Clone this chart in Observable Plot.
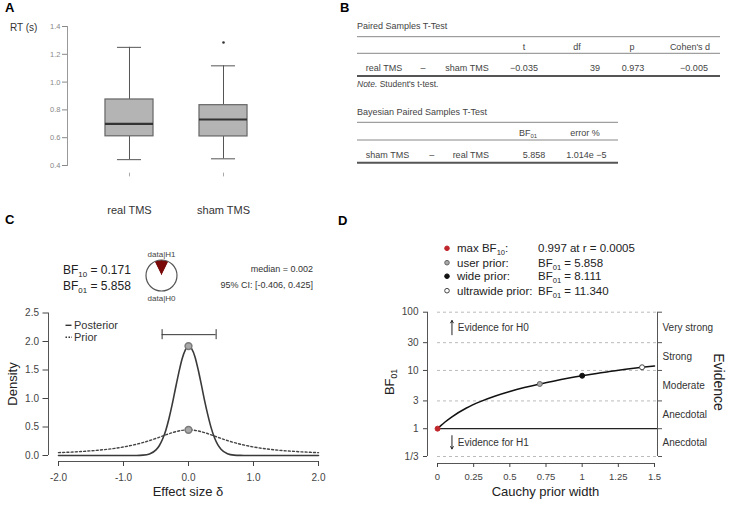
<!DOCTYPE html>
<html><head><meta charset="utf-8">
<script src="https://cdn.jsdelivr.net/npm/d3@7"></script>
<script src="https://cdn.jsdelivr.net/npm/@observablehq/plot@0.6"></script>
<style>
html,body{margin:0;padding:0;background:#fff;}
#fig{position:relative;width:733px;height:505px;overflow:hidden;background:#fff;}
#fig svg{position:absolute;}
</style></head><body><div id="fig"></div>
<script>
const FONT = "'Liberation Sans', Arial, Helvetica, sans-serif";

// ---------- Panel A: RT box plots (summary statistics)
const conditions = ["real TMS", "sham TMS"];
const rtQ1 = [0.610, 0.609];
const rtMedian = [0.700, 0.731];
const rtQ3 = [0.875, 0.834];
const rtWhiskerLow = [0.442, 0.448];
const rtWhiskerHigh = [1.250, 1.117];
const rtOutliers = [{condition: "sham TMS", rt: 1.285}];
const rtTicks = [0.4, 0.6, 0.8, 1.0, 1.2, 1.4];

// ---------- Panel B: tables
const tTestTitle = "Paired Samples T-Test";
const tTestHeader = ["t", "df", "p", "Cohen's d"];
const tTestRow = ["real TMS", "\u2013", "sham TMS", "\u22120.035", "39", "0.973", "\u22120.005"];
const tTestNote = ["Note.", " Student's t-test."];
const bayesTitle = "Bayesian Paired Samples T-Test";
const bayesRow = ["sham TMS", "\u2013", "real TMS", "5.858", "1.014e \u22125"];

// ---------- Panel C: prior & posterior
const bf10 = 0.171, bf01 = 5.858;
const posteriorMedian = 0.002, ciLow = -0.406, ciHigh = 0.425;
const deltaGrid = [-2, -1.5, -1, -0.8, -0.7, -0.6, -0.5, -0.45, -0.4, -0.35, -0.3, -0.25, -0.2, -0.15, -0.1, -0.05, 0, 0.05, 0.1, 0.15, 0.2, 0.25, 0.3, 0.35, 0.4, 0.45, 0.5, 0.6, 0.7, 0.8, 1, 1.5, 2];
const posteriorDensity = [0, 0, 0, 0.001, 0.006, 0.027, 0.098, 0.171, 0.284, 0.44, 0.65, 0.90, 1.18, 1.45, 1.69, 1.85, 1.92, 1.87, 1.73, 1.50, 1.23, 0.95, 0.70, 0.48, 0.31, 0.19, 0.11, 0.031, 0.007, 0.002, 0, 0, 0];
const priorGrid = [-2, -1.875, -1.75, -1.625, -1.5, -1.375, -1.25, -1.125, -1, -0.875, -0.75, -0.625, -0.5, -0.375, -0.25, -0.125, 0, 0.125, 0.25, 0.375, 0.5, 0.625, 0.75, 0.875, 1, 1.125, 1.25, 1.375, 1.5, 1.625, 1.75, 1.875, 2];
const priorDensity = [0.050, 0.056, 0.063, 0.072, 0.082, 0.094, 0.109, 0.127, 0.150, 0.178, 0.212, 0.253, 0.300, 0.351, 0.400, 0.436, 0.450, 0.436, 0.400, 0.351, 0.300, 0.253, 0.212, 0.178, 0.150, 0.127, 0.109, 0.094, 0.082, 0.072, 0.063, 0.056, 0.050];
const peakPosterior = 1.92, peakPrior = 0.45;
const ciBarLevel = 2.12;
const densityTicks = [0, 0.5, 1, 1.5, 2, 2.5];
const deltaTicks = [-2, -1, 0, 1, 2];

// ---------- Panel D: robustness check
const priorWidth = [0, 0.025, 0.05, 0.1, 0.2, 0.3, 0.4, 0.5, 0.6, 0.707, 0.8, 0.9, 1.0, 1.1, 1.2, 1.3, 1.414, 1.5];
const bf01Curve = [1.0, 1.14, 1.29, 1.6, 2.27, 2.95, 3.65, 4.36, 5.08, 5.858, 6.55, 7.33, 8.111, 8.9, 9.65, 10.45, 11.34, 11.98];
const markerNames = ["max BF10", "user prior", "wide prior", "ultrawide prior"];
const markerWidth = [0.0005, 0.707, 1.0, 1.414];
const markerBF01 = [1.003, 5.858, 8.111, 11.34];
const markerFill = ["#c0272d", "#a8a8a8", "#111111", "#ffffff"];
const markerStroke = ["#c0272d", "#666666", "#111111", "#444444"];
const legendValues = ["0.997 at r = 0.0005", "5.858", "8.111", "11.340"];
const bfTicks = [1/3, 1, 3, 10, 30, 100];
const widthTicks = [0, 0.25, 0.5, 0.75, 1, 1.25, 1.5];
const evidenceLabels = ["Very strong", "Strong", "Moderate", "Anecdotal", "Anecdotal"];
const evidenceLow = [30, 10, 3, 1, 1/3];
const evidenceHigh = [100, 30, 10, 3, 1];

const fig = document.getElementById("fig");
function mount(svg, left, top) {
  svg.style.position = "absolute";
  svg.style.left = left + "px";
  svg.style.top = top + "px";
  svg.style.maxWidth = "none";
  svg.style.background = "transparent";
  fig.appendChild(svg);
}

// ---------- Plot A
const boxes = conditions.map((c, i) => ({condition: c, q1: rtQ1[i], median: rtMedian[i], q3: rtQ3[i], lo: rtWhiskerLow[i], hi: rtWhiskerHigh[i]}));
const plotA = Plot.plot({
  width: 340, height: 230, marginTop: 26, marginBottom: 65, marginLeft: 67, marginRight: 40,
  style: {fontFamily: FONT, background: "transparent"},
  x: {type: "band", domain: conditions, range: [59, 293], padding: 0.489, round: false},
  y: {domain: [0.4, 1.4]},
  marks: [
    Plot.frame({anchor: "left", stroke: "#999"}),
    Plot.axisY({ticks: rtTicks, tickFormat: d => d.toFixed(1), tickSize: 5, tickPadding: 2, fontSize: 7.5, color: "#888", label: null}),
    Plot.axisX({tickSize: 0, tickPadding: 41, fontSize: 11, color: "#333", label: null}),
    Plot.ruleX(conditions, {x: d => d, y1: () => 0.345, y2: () => 0.318, stroke: "#aaa"}),
    Plot.ruleX(boxes, {x: "condition", y1: "q3", y2: "hi", stroke: "#555"}),
    Plot.ruleX(boxes, {x: "condition", y1: "lo", y2: "q1", stroke: "#555"}),
    Plot.tickY(boxes, {x: "condition", y: "hi", insetLeft: 12, insetRight: 12, stroke: "#555"}),
    Plot.tickY(boxes, {x: "condition", y: "lo", insetLeft: 12, insetRight: 12, stroke: "#555"}),
    Plot.barY(boxes, {x: "condition", y1: "q1", y2: "q3", fill: "#b4b4b4", stroke: "#666", strokeWidth: 1.2}),
    Plot.tickY(boxes, {x: "condition", y: "median", stroke: "#333", strokeWidth: 2.2}),
    Plot.dot(rtOutliers, {x: "condition", y: "rt", r: 1.3, fill: "#333", stroke: null})
  ]
});
mount(plotA, 0, 0);

// ---------- Plot C
const posterior = deltaGrid.map((x, i) => ({delta: x, density: posteriorDensity[i]}));
const prior = priorGrid.map((x, i) => ({delta: x, density: priorDensity[i]}));
const plotC = Plot.plot({
  width: 340, height: 205, marginTop: 12.5, marginBottom: 44, marginLeft: 48, marginRight: 22,
  style: {fontFamily: FONT, background: "transparent"},
  x: {domain: [-2, 2], insetLeft: 10},
  y: {domain: [0, 2.5], insetBottom: 6},
  marks: [
    Plot.ruleX([-2], {y1: () => 0, y2: () => 2.5, dx: -10, stroke: "#555"}),
    Plot.ruleY([0], {x1: () => -2, x2: () => 2, dy: 6, stroke: "#555"}),
    Plot.axisY({ticks: densityTicks, tickFormat: d => d.toFixed(1), tickSize: 5.5, tickPadding: 4, fontSize: 10, color: "#444", label: null}),
    Plot.axisX({ticks: deltaTicks, tickFormat: d => d.toFixed(1), tickSize: 5, tickPadding: 7, fontSize: 10, color: "#444", label: null}),
    Plot.line(prior, {x: "delta", y: "density", stroke: "#444", strokeWidth: 1.4, strokeDasharray: "2,2.2", curve: "monotone-x"}),
    Plot.line(posterior, {x: "delta", y: "density", stroke: "#3a3a3a", strokeWidth: 1.6, curve: "monotone-x"}),
    Plot.ruleY([ciBarLevel], {x1: () => ciLow, x2: () => ciHigh, stroke: "#333"}),
    Plot.ruleX([ciLow, ciHigh], {y1: () => ciBarLevel - 0.088, y2: () => ciBarLevel + 0.088, stroke: "#333"}),
    Plot.dot([{delta: 0, density: peakPosterior}, {delta: 0, density: peakPrior}], {x: "delta", y: "density", r: 3.4, fill: "#a8a8a8", stroke: "#7a7a7a"})
  ]
});
mount(plotC, 0, 300);

// ---------- Plot D
const curve = priorWidth.map((r, i) => ({r, bf: bf01Curve[i]}));
const markers = markerNames.map((n, i) => ({name: n, r: markerWidth[i], bf: markerBF01[i], fill: markerFill[i], stroke: markerStroke[i]}));
const evidence = evidenceLabels.map((l, i) => ({label: l, mid: Math.sqrt(evidenceLow[i] * evidenceHigh[i])}));
const plotD = Plot.plot({
  width: 363, height: 205, marginTop: 11.7, marginBottom: 42, marginLeft: 57, marginRight: 76,
  style: {fontFamily: FONT, background: "transparent"},
  x: {domain: [0, 1.5], insetLeft: 10, insetRight: 3},
  y: {type: "log", domain: [1/3, 100], insetBottom: 7},
  marks: [
    Plot.ruleY(bfTicks.filter(t => t !== 1), {x1: () => 0, x2: () => 1.5, insetRight: -3, stroke: "#bbb", strokeDasharray: "3,3"}),
    Plot.ruleY([1], {x1: () => 0, x2: () => 1.5, insetRight: -3, stroke: "#222", strokeWidth: 1.2}),
    Plot.ruleX([0], {y1: () => 1/3, y2: () => 100, dx: -10, stroke: "#555"}),
    Plot.ruleX([1.5], {y1: () => 1/3, y2: () => 100, dx: 3, stroke: "#555"}),
    Plot.ruleY([1/3], {x1: () => 0, x2: () => 1.5, dy: 7, stroke: "#555"}),
    Plot.axisY({ticks: bfTicks, tickFormat: d => d < 1 ? "1/3" : String(d), tickSize: 4, tickPadding: 5, fontSize: 10, color: "#444", label: null}),
    Plot.axisY({anchor: "right", ticks: bfTicks, tickFormat: () => "", tickSize: 4, color: "#555", label: null}),
    Plot.axisX({ticks: widthTicks, tickFormat: d => String(d), tickSize: 4, tickPadding: 6, fontSize: 9.5, color: "#444", label: null}),
    Plot.line(curve, {x: "r", y: "bf", curve: "monotone-x", stroke: "#111", strokeWidth: 1.5}),
    Plot.dot(markers, {x: "r", y: "bf", r: 2.5, fill: "fill", stroke: "stroke", strokeWidth: 1}),
    Plot.text(evidence, {x: () => 1.5, y: "mid", text: "label", textAnchor: "start", dx: 8, fontSize: 10, fill: "#333"}),
    Plot.arrow([0], {x1: () => 0.1, y1: () => 41, x2: () => 0.1, y2: () => 72, headLength: 4, stroke: "#222", strokeWidth: 1}),
    Plot.arrow([0], {x1: () => 0.1, y1: () => 0.76, x2: () => 0.1, y2: () => 0.45, headLength: 4, stroke: "#222", strokeWidth: 1}),
    Plot.text(["Evidence for H0"], {x: () => 0.14, y: () => 54.8, text: d => d, textAnchor: "start", fontSize: 10, fill: "#333"}),
    Plot.text(["Evidence for H1"], {x: () => 0.14, y: () => 0.58, text: d => d, textAnchor: "start", fontSize: 10, fill: "#333"})
  ]
});
mount(plotD, 370, 300);

// ---------- Overlay text (labels, tables, legends)
const ov = d3.select(fig).append("svg").attr("width", 733).attr("height", 505)
  .style("left", "0px").style("top", "0px").attr("font-family", FONT);

function text(x, y, parts, {size = 10, anchor = "start", weight = "normal", fill = "#333", rotate = 0, family = FONT, subScale = 0.66} = {}) {
  const t = ov.append("text").attr("x", x).attr("y", y).attr("font-size", size)
    .attr("text-anchor", anchor).attr("font-weight", weight).attr("fill", fill).attr("font-family", family);
  if (rotate) t.attr("transform", `rotate(${rotate},${x},${y})`);
  if (typeof parts === "string") parts = [parts];
  let shifted = false;
  for (const p of parts) {
    const isSub = typeof p === "object" && p.sub;
    const isIt = typeof p === "object" && p.italic;
    const s = typeof p === "object" ? p.t : p;
    const ts = t.append("tspan").text(s);
    if (isSub) { ts.attr("font-size", size * subScale).attr("dy", shifted ? 0 : size * 0.25); shifted = true; }
    else { if (shifted) ts.attr("dy", -size * 0.25); shifted = false; }
    if (isIt) ts.attr("font-style", "italic");
  }
  return t;
}
function hline(x1, x2, y, w = 1, c = "#666") {
  ov.append("line").attr("x1", x1).attr("x2", x2).attr("y1", y).attr("y2", y).attr("stroke", c).attr("stroke-width", w);
}

// Panel letters
text(5, 12, "A", {size: 13, weight: "bold", fill: "#000"});
text(340, 12, "B", {size: 13, weight: "bold", fill: "#000"});
text(5, 224, "C", {size: 13, weight: "bold", fill: "#000"});
text(338, 225, "D", {size: 13, weight: "bold", fill: "#000"});

// Panel A axis title
text(10, 30.5, "RT (s)", {size: 10});

// Panel B tables
const TF = 9;
text(357, 29, tTestTitle, {size: TF, fill: "#444"});
hline(357, 720, 36.7, 1, "#888");
[524, 577, 632, 690].forEach((x, i) => text(x, 50.3, tTestHeader[i], {size: TF, anchor: "middle", fill: "#444"}));
hline(357, 720, 53.3, 1, "#888");
[384, 423, 467, 524, 595, 633, 694].forEach((x, i) => text(x, 71, tTestRow[i], {size: TF, anchor: "middle", fill: "#444"}));
hline(357, 720, 76, 2, "#555");
text(357, 86.5, [{t: tTestNote[0], italic: true}, tTestNote[1]], {size: TF - 0.5, fill: "#444"});
text(357, 114.8, bayesTitle, {size: TF, fill: "#444"});
hline(357, 618, 122.3, 1, "#888");
text(528, 135.5, ["BF", {t: "01", sub: true}], {size: TF, anchor: "middle", fill: "#444"});
text(585, 135.5, "error %", {size: TF, anchor: "middle", fill: "#444"});
hline(357, 618, 140, 1, "#888");
[387.5, 431.7, 470.8, 534, 586.3].forEach((x, i) => text(x, 157.5, bayesRow[i], {size: TF, anchor: "middle", fill: "#444"}));
hline(357, 618, 162.7, 2, "#555");

// Panel C header
text(63, 273.5, ["BF", {t: "10", sub: true}, " = " + bf10.toFixed(3)], {size: 12, fill: "#222"});
text(63, 289.5, ["BF", {t: "01", sub: true}, " = " + bf01.toFixed(3)], {size: 12, fill: "#222"});
text(313, 272.3, `median = ${posteriorMedian.toFixed(3)}`, {size: 9, anchor: "end", fill: "#333"});
text(313, 288.3, `95% CI: [${ciLow.toFixed(3)}, ${ciHigh.toFixed(3)}]`, {size: 9, anchor: "end", fill: "#333"});
// pie
const pieData = [{k: "H1", v: bf10}, {k: "H0", v: 1}];
const share = bf10 / (1 + bf10);
const arcs = d3.pie().value(d => d.v).sort(null).startAngle(-Math.PI * share).endAngle(2 * Math.PI - Math.PI * share)(pieData);
const arc = d3.arc().innerRadius(0).outerRadius(15.5);
const pg = ov.append("g").attr("transform", "translate(161.5,275.5)");
pg.selectAll("path").data(arcs).join("path").attr("d", arc)
  .attr("fill", d => d.data.k === "H1" ? "#7a0a0a" : "#fff").attr("stroke", "none");
pg.append("circle").attr("r", 15.5).attr("fill", "none").attr("stroke", "#555").attr("stroke-width", 1.2);
text(161.5, 256.8, "data|H1", {size: 8, anchor: "middle", fill: "#444"});
text(161.5, 300.8, "data|H0", {size: 8, anchor: "middle", fill: "#444"});
// legend
ov.append("line").attr("x1", 65.5).attr("x2", 71.5).attr("y1", 325.3).attr("y2", 325.3).attr("stroke", "#333").attr("stroke-width", 1.4);
ov.append("line").attr("x1", 65.5).attr("x2", 72).attr("y1", 337.3).attr("y2", 337.3).attr("stroke", "#333").attr("stroke-width", 1.4).attr("stroke-dasharray", "1.5,1.5");
text(74, 329.3, "Posterior", {size: 11, fill: "#333"});
text(74, 341.3, "Prior", {size: 11, fill: "#333"});
// axis titles
text(188, 495.5, "Effect size \u03b4", {size: 13, anchor: "middle", fill: "#222"});
text(16.5, 384, "Density", {size: 13, anchor: "middle", fill: "#222", rotate: -90});

// Panel D legend
const legY = [248.3, 262.7, 276.2, 290.7];
markers.forEach((m, i) => {
  ov.append("circle").attr("cx", 447).attr("cy", legY[i]).attr("r", 2.3).attr("fill", m.fill).attr("stroke", m.stroke);
  const label = i === 0 ? ["max BF", {t: "10", sub: true}, ":"] : [m.name + ":"];
  text(457, legY[i] + 4, label, {size: 11.5, fill: "#222"});
  const val = i === 0 ? [legendValues[i]] : ["BF", {t: "01", sub: true}, " = " + legendValues[i]];
  text(538, legY[i] + 4, val, {size: 11.5, fill: "#222"});
});
text(545.5, 495.5, "Cauchy prior width", {size: 13, anchor: "middle", fill: "#222"});
text(393.5, 382, ["BF", {t: "01", sub: true}], {size: 13, anchor: "middle", fill: "#222", rotate: -90});
text(713.5, 382, "Evidence", {size: 14, anchor: "middle", fill: "#222", rotate: 90});
</script></body></html>
